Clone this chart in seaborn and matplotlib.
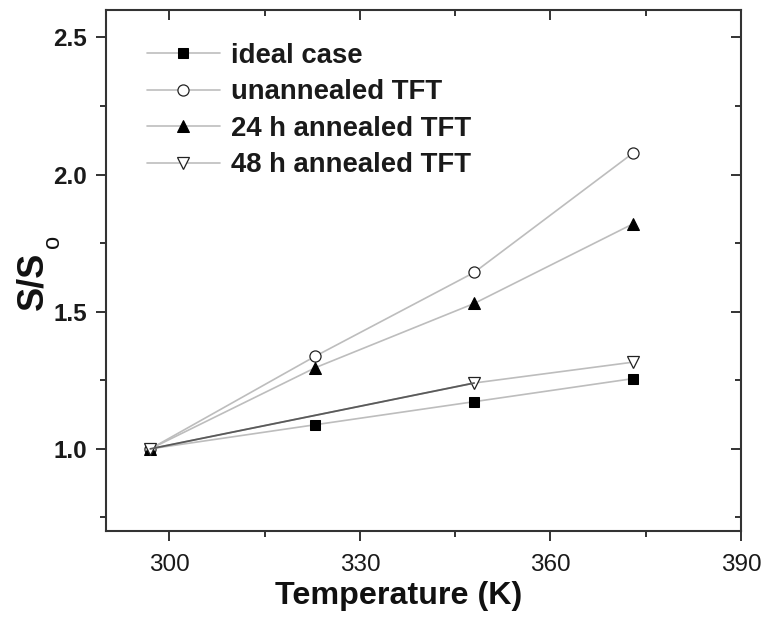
import matplotlib
matplotlib.use("Agg")
import matplotlib.pyplot as plt
from matplotlib.ticker import MultipleLocator
import seaborn as sns
import pandas as pd

# Measured temperatures (K) and normalised subthreshold swing S/So
temps = [297, 323, 348, 373]
ideal_case = [1.0, 1.088, 1.172, 1.256]
unannealed = [1.0, 1.338, 1.643, 2.078]
annealed_24h = [1.0, 1.296, 1.530, 1.820]
temps_48h = [297, 348, 373]
annealed_48h = [1.0, 1.240, 1.316]

series_names = ["ideal case", "unannealed TFT", "24 h annealed TFT", "48 h annealed TFT"]

sns.set_theme(style="ticks")
plt.rcParams["font.family"] = ["Liberation Sans", "DejaVu Sans"]

fig = plt.figure(figsize=(7.67, 6.18), dpi=100)
ax = fig.add_axes([0.138, 0.1405, 0.828, 0.8435])

line_grey = "#bdbdbd"
edge = "#222222"
styles = [
    dict(marker="s", markersize=7, markerfacecolor="black", markeredgecolor="black"),
    dict(marker="o", markersize=8, markerfacecolor="white", markeredgecolor=edge, markeredgewidth=0.9),
    dict(marker="^", markersize=9, markerfacecolor="black", markeredgecolor="black"),
    dict(marker="v", markersize=9, markerfacecolor="white", markeredgecolor=edge, markeredgewidth=0.9),
]
data = [
    (temps, ideal_case),
    (temps, unannealed),
    (temps, annealed_24h),
    (temps_48h, annealed_48h),
]

for name, (xs, ys), st in zip(series_names, data, styles):
    df = pd.DataFrame({"T": xs, "S": ys})
    sns.lineplot(data=df, x="T", y="S", ax=ax, color=line_grey, linewidth=1.2,
                 label=name, sort=False, **st)

# darker first span of the 48 h curve
df48 = pd.DataFrame({"T": temps_48h[:2], "S": annealed_48h[:2]})
sns.lineplot(data=df48, x="T", y="S", ax=ax, color="#5a5a5a", linewidth=1.3,
             legend=False, zorder=2.05)

ax.set_xlim(290, 390)
ax.set_ylim(0.7, 2.6)
ax.xaxis.set_major_locator(MultipleLocator(30))
ax.xaxis.set_minor_locator(MultipleLocator(15))
ax.yaxis.set_major_locator(MultipleLocator(0.5))
ax.yaxis.set_minor_locator(MultipleLocator(0.25))

spine_c = "#333333"
for sp in ax.spines.values():
    sp.set_color(spine_c)
    sp.set_linewidth(1.5)

ax.tick_params(which="both", direction="out", color=spine_c, width=1.4,
               top=False, right=False)
ax.tick_params(which="major", length=7.5)
ax.tick_params(which="minor", length=4)
ax.tick_params(axis="x", which="major", pad=9)
ax.tick_params(axis="y", which="major", pad=6)

# mirrored inward ticks on top and right
ax2 = ax.secondary_xaxis("top")
ax2.xaxis.set_major_locator(MultipleLocator(30))
ax2.xaxis.set_minor_locator(MultipleLocator(15))
ax2.tick_params(which="both", direction="in", labeltop=False, color=spine_c, width=1.4)
ax2.tick_params(which="major", length=7)
ax2.tick_params(which="minor", length=4)
ax3 = ax.secondary_yaxis("right")
ax3.yaxis.set_major_locator(MultipleLocator(0.5))
ax3.yaxis.set_minor_locator(MultipleLocator(0.25))
ax3.tick_params(which="both", direction="in", labelright=False, color=spine_c, width=1.4)
ax3.tick_params(which="major", length=7)
ax3.tick_params(which="minor", length=4)
for a in (ax2, ax3):
    for sp in a.spines.values():
        sp.set_visible(False)

for lbl in ax.get_xticklabels():
    lbl.set_fontsize(17.5)
    lbl.set_color("#1a1a1a")
for lbl in ax.get_yticklabels():
    lbl.set_fontsize(17.5)
    lbl.set_fontweight("bold")
    lbl.set_color("#1a1a1a")

ax.set_xlabel("Temperature (K)", fontsize=23.2, fontweight="bold", color="#111111")
ax.xaxis.set_label_coords(0.461, -0.095)
ax.xaxis.label.set_verticalalignment("top")
ax.set_ylabel("S/S", fontsize=26, fontweight="bold", color="#111111")
ax.yaxis.set_label_coords(-0.087, 0.48)
fig.text(53.5 / 767, 1 - 241.5 / 618, "o", rotation=90, fontsize=17,
         ha="center", va="center", color="#111111")

leg = ax.legend(loc="upper left", frameon=False, fontsize=19.8, handlelength=2.65,
                borderaxespad=0, borderpad=0, labelspacing=0.385, handletextpad=0.4,
                bbox_to_anchor=(0.0646, 0.937))
for t in leg.get_texts():
    t.set_fontweight("bold")
    t.set_color("#1a1a1a")

fig.savefig("out.png", dpi=100)
